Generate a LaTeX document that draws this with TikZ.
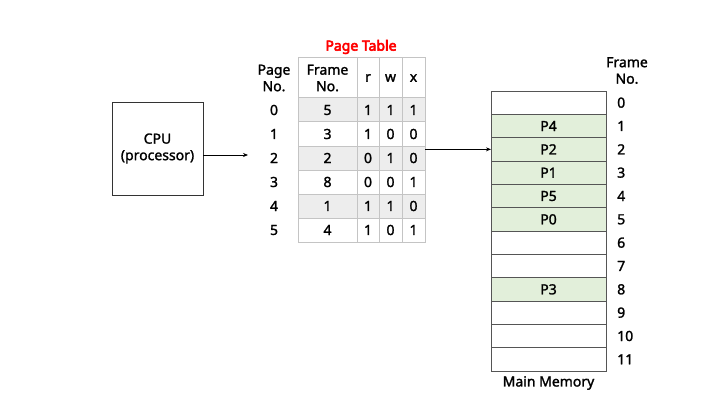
\documentclass[tikz,border=0pt]{standalone}
\usepackage{fontspec}
\setmainfont{Noto Sans}[FakeBold=1.6]
\newfontfamily\titlefont{Noto Sans}[FakeBold=4]
\usetikzlibrary{arrows.meta}
\definecolor{rowshade}{HTML}{EDEDED}
\definecolor{memgreen}{HTML}{E2EFDA}
\definecolor{tline}{HTML}{C4C4C4}
\definecolor{mline}{HTML}{555555}
\definecolor{titlered}{HTML}{FF0000}
\begin{document}
\begin{tikzpicture}[x=1pt,y=-1pt,
  font=\fontsize{14}{16.5}\selectfont,
  tcell/.style={draw=tline, line width=1pt, minimum height=24pt, inner sep=0pt, outer sep=0pt},
  mcell/.style={draw=mline, line width=0.8pt, minimum width=115pt, minimum height=23.33pt, inner sep=0pt, outer sep=0pt},
  arr/.style={line width=0.8pt, -{Stealth[length=5pt,width=4pt]}},
  lbl/.style={inner sep=0pt, align=center}]
\useasboundingbox (0,0) rectangle (705,420);

% CPU
\node[draw=black!80, line width=0.8pt, minimum width=91pt, minimum height=93pt, align=center] (cpu) at (157.5,148.5) {CPU\\(processor)};

% Page table title and header
\node[lbl, text=titlered, font=\fontsize{14}{16.5}\titlefont] (title) at (361,47) {Page Table};
\node[lbl] (hpage) at (274,78) {Page\\No.};
\node[tcell, minimum width=59pt, minimum height=40pt, align=center] (hf) at (327.5,78) {Frame\\No.};
\node[tcell, minimum width=22pt, minimum height=40pt] (hr) at (368,78) {r};
\node[tcell, minimum width=23pt, minimum height=40pt] (hw) at (390.5,78) {w};
\node[tcell, minimum width=23pt, minimum height=40pt] (hx) at (413.5,78) {x};

\foreach \i/\f/\r/\w/\x/\c in {0/5/1/1/1/rowshade,1/3/1/0/0/white,2/2/0/1/0/rowshade,3/8/0/0/1/white,4/1/1/1/0/rowshade,5/4/1/0/1/white}{
  \pgfmathsetmacro\yy{110+24*\i}
  \node[lbl] (p\i) at (274,\yy) {\i};
  \node[tcell, fill=\c, minimum width=59pt] (f\i) at (327.5,\yy) {\f};
  \node[tcell, fill=\c, minimum width=22pt] (r\i) at (368,\yy) {\r};
  \node[tcell, fill=\c, minimum width=23pt] (w\i) at (390.5,\yy) {\w};
  \node[tcell, fill=\c, minimum width=23pt] (x\i) at (413.5,\yy) {\x};
}

% Main memory
\node[lbl] (hframe) at (627,70.5) {Frame\\No.};
\foreach \i/\t/\c in {0//white,1/P4/memgreen,2/P2/memgreen,3/P1/memgreen,4/P5/memgreen,5/P0/memgreen,6//white,7//white,8/P3/memgreen,9//white,10//white,11//white}{
  \pgfmathsetmacro\yy{91+23.333*\i+11.667}
  \node[mcell, fill=\c] (m\i) at (548.5,\yy) {\t};
  \node[lbl, anchor=west] (n\i) at (617,\yy) {\i};
}
\node[lbl] (mmlabel) at (548.5,383) {Main Memory};

% Connectors
\coordinate (cpuend) at (248,155);
\draw[arr] (cpu.east |- cpuend) -- (cpuend);
\draw[arr] (x2.east |- m2.west) -- (m2.west);
\end{tikzpicture}
\end{document}
